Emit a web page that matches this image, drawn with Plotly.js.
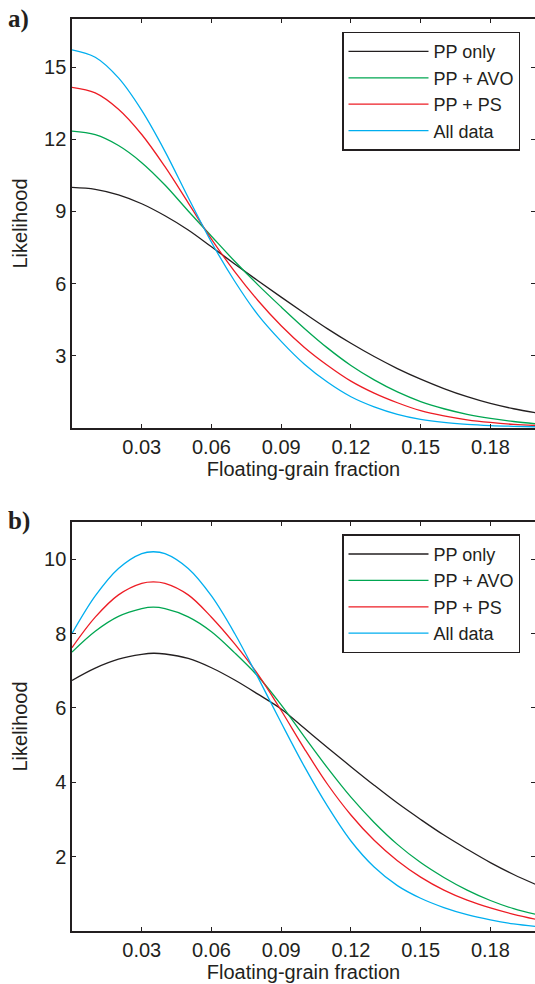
<!DOCTYPE html>
<html>
<head>
<meta charset="utf-8">
<script src="https://cdn.plot.ly/plotly-3.0.1.min.js"></script>
<style>html,body{margin:0;padding:0;background:#fff;overflow:hidden}#chart{width:535px;height:984px}</style>
</head>
<body>
<div id="chart"></div>
<script>
// ---- data ----
const seriesNames = ["PP only", "PP + AVO", "PP + PS", "All data"];
const seriesColors = ["#231f20", "#00a651", "#ed1c24", "#00aeef"];

// Panel a) x values (floating-grain fraction)
const xA = [0,0.01,0.02,0.03,0.04,0.05,0.06,0.07,0.08,0.09,0.10,0.11,0.12,0.13,0.14,0.15,0.16,0.17,0.18,0.19,0.20];
const aPPonly = [10.0,9.92,9.69,9.32,8.82,8.23,7.53,6.82,6.12,5.44,4.77,4.12,3.52,2.97,2.47,2.03,1.64,1.30,1.02,0.80,0.63];
const aPPAVO  = [12.34,12.19,11.74,11.03,10.10,9.02,7.97,6.93,5.95,5.03,4.14,3.32,2.60,2.00,1.50,1.10,0.80,0.57,0.40,0.27,0.17];
const aPPPS   = [14.16,13.93,13.25,12.20,10.86,9.36,7.85,6.50,5.30,4.25,3.35,2.60,1.95,1.45,1.05,0.72,0.50,0.34,0.23,0.15,0.10];
const aAll    = [15.72,15.41,14.55,13.20,11.50,9.58,7.72,6.10,4.70,3.60,2.65,1.90,1.30,0.88,0.57,0.36,0.23,0.15,0.10,0.07,0.05];

// Panel b) x values
const xB = [0,0.01,0.02,0.03,0.035,0.04,0.05,0.06,0.07,0.08,0.09,0.10,0.11,0.12,0.13,0.14,0.15,0.16,0.17,0.18,0.19,0.20];
const bPPonly = [6.74,7.07,7.31,7.44,7.47,7.45,7.33,7.08,6.75,6.37,5.97,5.45,4.93,4.42,3.92,3.44,3.00,2.58,2.20,1.84,1.52,1.24];
const bPPAVO  = [7.50,8.06,8.46,8.67,8.71,8.67,8.45,8.05,7.48,6.85,6.08,5.22,4.38,3.60,2.92,2.33,1.84,1.44,1.10,0.82,0.60,0.44];
const bPPPS   = [7.62,8.44,9.04,9.35,9.39,9.35,9.04,8.44,7.72,6.90,5.93,4.90,3.94,3.12,2.44,1.89,1.45,1.10,0.83,0.62,0.45,0.31];
const bAll    = [8.00,9.01,9.75,10.15,10.20,10.15,9.75,9.01,8.00,6.82,5.60,4.42,3.35,2.42,1.72,1.22,0.88,0.63,0.44,0.30,0.19,0.12];

const xTickVals = [0.03,0.06,0.09,0.12,0.15,0.18];
const xTickText = ["0.03","0.06","0.09","0.12","0.15","0.18"];
const yTickValsA = [3,6,9,12,15];
const yTickValsB = [2,4,6,8,10];
const xTitle = "Floating-grain fraction";
const yTitle = "Likelihood";

// ---- build ----
const panelA = [aPPonly, aPPAVO, aPPPS, aAll];
const panelB = [bPPonly, bPPAVO, bPPPS, bAll];
const traces = [];
panelA.forEach((ys, i) => traces.push({
  x: xA, y: ys, type: "scatter", mode: "lines", name: seriesNames[i],
  line: {color: seriesColors[i], width: 1.3, shape: "spline", smoothing: 1},
  xaxis: "x", yaxis: "y", legend: "legend", hoverinfo: "skip"
}));
panelB.forEach((ys, i) => traces.push({
  x: xB, y: ys, type: "scatter", mode: "lines", name: seriesNames[i],
  line: {color: seriesColors[i], width: 1.3, shape: "spline", smoothing: 1},
  xaxis: "x2", yaxis: "y2", legend: "legend2", hoverinfo: "skip"
}));

const ink = "#231f20";
const fam = "Liberation Sans, Arial, Helvetica, sans-serif";
const font = {family: fam, size: 20, color: ink};
const legFont = {family: fam, size: 18, color: ink};
function xax(anchor) {
  return {
    anchor: anchor, domain: [0, 1], range: [0, 0.1992],
    tickvals: xTickVals, ticktext: xTickText,
    showline: true, linecolor: ink, linewidth: 1.7, mirror: "ticks",
    ticks: "inside", ticklen: 4, tickwidth: 1, tickcolor: ink,
    showgrid: false, zeroline: false, tickfont: font,
    title: {text: xTitle, font: font, standoff: 3}, automargin: false
  };
}
function yax(anchor, dom, rng, tv) {
  return {
    anchor: anchor, domain: dom, range: rng,
    tickvals: tv, ticktext: tv.map(String),
    showline: true, linecolor: ink, linewidth: 1.7, mirror: "ticks",
    ticks: "inside", ticklen: 4, tickwidth: 1, tickcolor: ink,
    showgrid: false, zeroline: false, tickfont: font,
    title: {text: yTitle, font: font, standoff: 11}, automargin: false
  };
}
const H = 984;
const legendCommon = {
  xanchor: "left", yanchor: "top", x: (342 - 72) / 463,
  bgcolor: "#ffffff", bordercolor: ink, borderwidth: 1.5,
  font: legFont, itemwidth: 80, tracegroupgap: 0, traceorder: "normal"
};
const layout = {
  width: 535, height: 984,
  margin: {l: 72, r: 0, t: 0, b: 0},
  paper_bgcolor: "#ffffff", plot_bgcolor: "#ffffff",
  showlegend: true,
  xaxis: xax("y"),
  yaxis: yax("x", [1 - 428 / H, 1 - 19 / H], [0, 17], yTickValsA),
  xaxis2: xax("y2"),
  yaxis2: yax("x2", [1 - 931 / H, 1 - 522 / H], [0, 11], yTickValsB),
  legend: Object.assign({}, legendCommon, {y: 1 - 31.7 / H}),
  legend2: Object.assign({}, legendCommon, {y: 1 - 534.3 / H}),
  annotations: [
    {text: "<b>a)</b>", xref: "paper", yref: "paper", x: -66 / 463, y: 1 - 3 / H, xanchor: "left", yanchor: "top",
     showarrow: false, font: {family: "Liberation Serif, Times New Roman, serif", size: 25, color: ink}},
    {text: "<b>b)</b>", xref: "paper", yref: "paper", x: -66 / 463, y: 1 - 505 / H, xanchor: "left", yanchor: "top",
     showarrow: false, font: {family: "Liberation Serif, Times New Roman, serif", size: 25, color: ink}}
  ]
};
Plotly.newPlot("chart", traces, layout, {staticPlot: true, displayModeBar: false});
</script>
</body>
</html>
